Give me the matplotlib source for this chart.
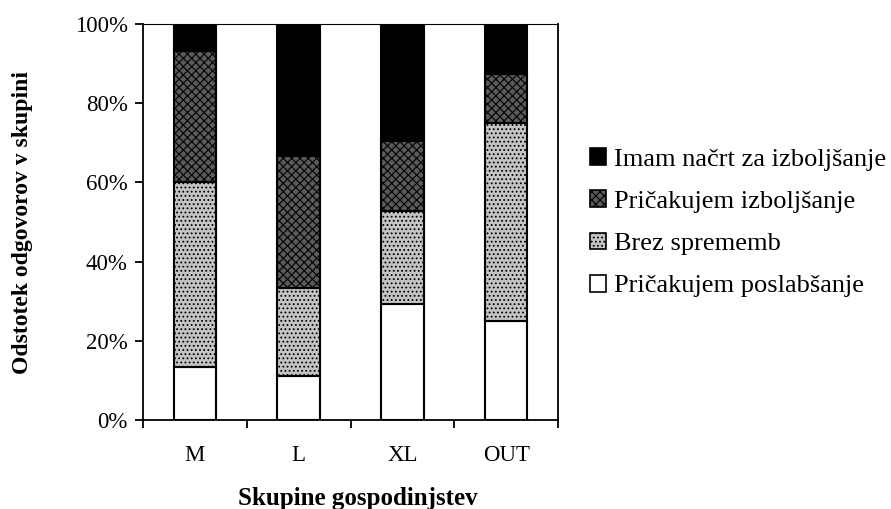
import matplotlib
matplotlib.use("Agg")
import matplotlib.pyplot as plt
import numpy as np
from matplotlib.patches import Patch

categories = ["M", "L", "XL", "OUT"]
series_names = ["Pričakujem poslabšanje", "Brez sprememb", "Pričakujem izboljšanje", "Imam načrt za izboljšanje"]
poslabsanje = [13.3, 11.1, 29.4, 25.0]
brez = [46.7, 22.2, 23.5, 50.0]
izboljsanje = [33.3, 33.3, 17.6, 12.5]
nacrt = [6.7, 33.4, 29.5, 12.5]
yticks = [0, 20, 40, 60, 80, 100]
ytick_labels = ["0%", "20%", "40%", "60%", "80%", "100%"]

plt.rcParams['font.family'] = ['Liberation Serif', 'DejaVu Serif']
plt.rcParams['hatch.linewidth'] = 0.8

fig = plt.figure(figsize=(8.91, 5.09), dpi=100)
ax = fig.add_axes([0.1605, 0.1749, 0.4658, 0.7779])

x = np.arange(len(categories))
w = 0.41
styles = [
    dict(facecolor="white", hatch=None),
    dict(facecolor="#c4c4c4", hatch="...."),
    dict(facecolor="#5a5a5a", hatch="xxxx"),
    dict(facecolor="black", hatch=None),
]
data = [poslabsanje, brez, izboljsanje, nacrt]
bottom = np.zeros(len(categories))
handles = []
for vals, st, name in zip(data, styles, series_names):
    vals = np.array(vals)
    ax.bar(x, vals, w, bottom=bottom, facecolor=st["facecolor"], hatch=st["hatch"],
           edgecolor="black", linewidth=1.5)
    bottom += vals
    handles.append(Patch(facecolor=st["facecolor"], hatch=st["hatch"], edgecolor="black",
                         linewidth=1.2, label=name))

ax.set_xlim(-0.5, 3.5)
ax.set_ylim(0, 100)
ax.set_yticks(yticks)
ax.set_yticklabels(ytick_labels, fontsize=16.5)
ax.set_xticks([-0.5, 0.5, 1.5, 2.5, 3.5])
ax.set_xticklabels([])
ax.set_xticks(x, minor=True)
ax.set_xticklabels(categories, minor=True, fontsize=16.5)
ax.tick_params(axis='x', which='minor', length=0, pad=18)
ax.tick_params(axis='x', which='major', direction='out', length=6, width=1.3)
ax.tick_params(axis='y', direction='out', length=6, width=1.3, pad=5)
for s in ax.spines.values():
    s.set_linewidth(1.3)
ax.spines['top'].set_linewidth(0.8)

fig.text(23 / 891, 1 - 223 / 509, "Odstotek odgovorov v skupini", rotation=90,
         ha='center', va='center', fontsize=17, fontweight='bold')
fig.text(358 / 891, 1 - 498 / 509, "Skupine gospodinjstev",
         ha='center', va='center', fontsize=18, fontweight='bold')

leg = fig.legend(handles[::-1], series_names[::-1], loc='upper left',
                 bbox_to_anchor=(0.662, 0.709), frameon=False, fontsize=19,
                 handlelength=0.6, handleheight=0.6, handletextpad=0.3,
                 labelspacing=0.74, borderaxespad=0, borderpad=0)

fig.savefig("out.png", dpi=100)
